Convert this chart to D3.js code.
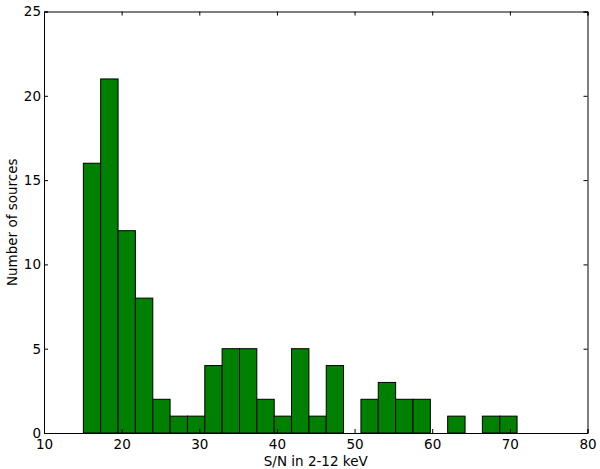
<!DOCTYPE html>
<html>
<head>
<meta charset="utf-8">
<script src="https://cdn.jsdelivr.net/npm/d3@7"></script>
<style>
    body { margin: 0; background: #fff; }
    text { font-family: 'DejaVu Sans', sans-serif; fill: #000; }
</style>
</head>
<body>
<script>
// histogram bin edges (S/N) and counts per bin
const binEdges = [15.07, 17.30, 19.54, 21.77, 24.01, 26.24, 28.48, 30.71, 32.94, 35.18,
    37.41, 39.65, 41.88, 44.12, 46.35, 48.58, 50.82, 53.05, 55.29, 57.52,
    59.76, 61.99, 64.23, 66.46, 68.70, 70.93];
const counts = [16, 21, 12, 8, 2, 1, 1, 4, 5, 5, 2, 1, 5, 1, 4, 0, 2, 3, 2, 2, 0, 1, 0, 1, 1];
const xTicks = [10, 20, 30, 40, 50, 60, 70, 80];
const yTicks = [0, 5, 10, 15, 20, 25];

const width = 600, height = 469;
const margin = {top: 11.5, right: 12.5, bottom: 36, left: 44};

const svg = d3.select('body')
    .append('svg')
    .attr('width', width)
    .attr('height', height);

const x = d3.scaleLinear().domain([10, 80]).range([margin.left, width - margin.right]);
const y = d3.scaleLinear().domain([0, 25]).range([height - margin.bottom, margin.top]);

const bins = counts.map((c, i) => ({x0: binEdges[i], x1: binEdges[i + 1], n: c}));

svg.selectAll('.bar')
    .data(bins.filter(d => d.n > 0))
    .enter()
    .append('rect')
    .classed('bar', true)
    .attr('x', d => x(d.x0))
    .attr('y', d => y(d.n))
    .attr('width', d => x(d.x1) - x(d.x0))
    .attr('height', d => y(0) - y(d.n))
    .attr('fill', '#008000')
    .attr('stroke', '#000')
    .attr('stroke-width', 1);

// axes: ticks point inward on all four sides
const fs = 13.5;
svg.append('g')
    .attr('transform', 'translate(0,' + y(0) + ')')
    .call(d3.axisBottom(x).tickValues(xTicks).tickSize(-4).tickPadding(6).tickFormat(d3.format('d')));
svg.append('g')
    .attr('transform', 'translate(0,' + y(25) + ')')
    .call(d3.axisTop(x).tickValues(xTicks).tickSize(-4).tickFormat(''));
svg.append('g')
    .attr('transform', 'translate(' + x(10) + ',0)')
    .call(d3.axisLeft(y).tickValues(yTicks).tickSize(-4).tickPadding(3).tickFormat(d3.format('d')));
svg.append('g')
    .attr('transform', 'translate(' + x(80) + ',0)')
    .call(d3.axisRight(y).tickValues(yTicks).tickSize(-4).tickFormat(''));

svg.selectAll('.domain').attr('stroke', '#000').attr('stroke-width', 1);
svg.selectAll('.tick line').attr('stroke', '#000');
svg.selectAll('.tick text')
    .style('font-family', "'DejaVu Sans', sans-serif")
    .style('font-size', fs + 'px')
    .attr('fill', '#000');

svg.append('text')
    .attr('x', (x(10) + x(80)) / 2)
    .attr('y', 466)
    .attr('text-anchor', 'middle')
    .style('font-size', fs + 'px')
    .text('S/N in 2-12 keV');

svg.append('text')
    .attr('transform', 'translate(16.5,' + (y(0) + y(25)) / 2 + ') rotate(-90)')
    .attr('text-anchor', 'middle')
    .style('font-size', fs + 'px')
    .text('Number of sources');
</script>
</body>
</html>
